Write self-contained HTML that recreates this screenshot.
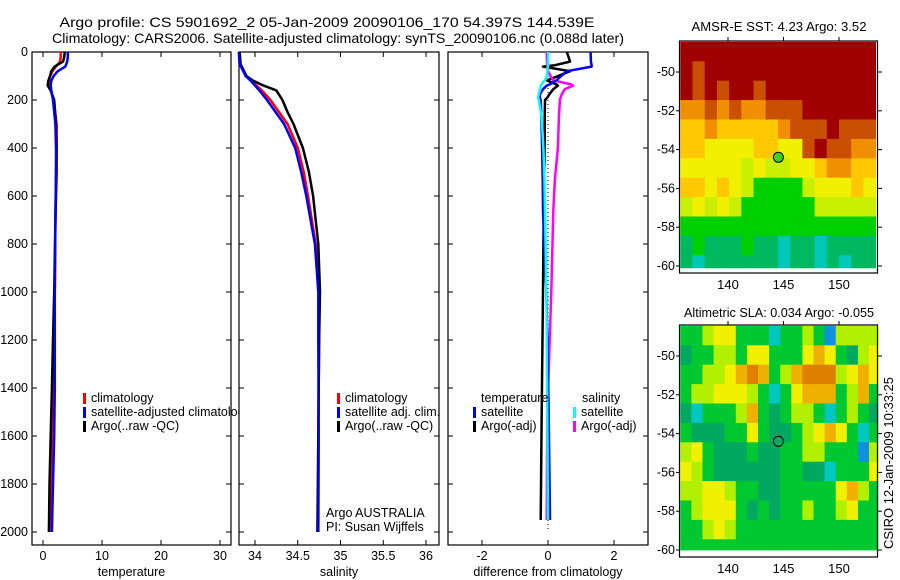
<!DOCTYPE html>
<html><head><meta charset="utf-8">
<style>
html,body{margin:0;padding:0;background:#fff;}
svg{display:block;font-family:"Liberation Sans","DejaVu Sans",sans-serif;}
</style></head>
<body>
<svg id="fig" width="900" height="580" viewBox="0 0 900 580" xmlns="http://www.w3.org/2000/svg">
<text x="327" y="27" font-size="14" text-anchor="middle" textLength="535" lengthAdjust="spacingAndGlyphs">Argo profile: CS 5901692_2 05-Jan-2009 20090106_170 54.397S 144.539E</text>
<text x="338" y="43" font-size="14" text-anchor="middle" textLength="572" lengthAdjust="spacingAndGlyphs">Climatology: CARS2006. Satellite-adjusted climatology: synTS_20090106.nc (0.088d later)</text>
<text x="779" y="31" font-size="13" text-anchor="middle" textLength="175" lengthAdjust="spacingAndGlyphs">AMSR-E SST: 4.23 Argo: 3.52</text>
<text x="779" y="317" font-size="13" text-anchor="middle" textLength="190" lengthAdjust="spacingAndGlyphs">Altimetric SLA: 0.034 Argo: -0.055</text>
<text transform="translate(893,549) rotate(-90)" font-size="13">CSIRO 12-Jan-2009 10:33:25</text>
</svg>
<script>
// ---------- data ----------
const depths = [0,20,40,60,80,100,120,140,160,200,300,400,500,700,1000,1200,1400,1600,1800,2000];
const tempClim = [3.0,3.0,2.9,2.2,1.6,1.2,1.0,1.0,1.3,1.8,2.3,2.3,2.2,2.1,2.0,1.9,1.7,1.5,1.3,1.1];
const tempSat = [4.2,4.2,4.1,3.8,2.5,1.8,1.4,1.3,1.4,1.7,2.1,2.2,2.2,2.1,2.0,2.0,2.0,1.9,1.7,1.5];
const tempArgo = [3.7,3.6,3.4,2.0,1.4,1.2,0.9,0.8,1.3,1.9,2.2,2.3,2.3,2.1,1.9,1.7,1.5,1.3,1.1,1.0];

const salDepths = [0,50,100,120,140,160,200,250,300,400,500,600,800,1000,1200,1600,2000];
const salClim = [33.82,33.83,33.9,33.96,34.02,34.08,34.18,34.28,34.38,34.5,34.57,34.62,34.71,34.75,34.75,34.74,34.74];
const salSat = [33.81,33.82,33.89,33.95,34.0,34.05,34.14,34.24,34.34,34.47,34.54,34.6,34.7,34.74,34.74,34.745,34.74];
const salArgo = [33.82,33.83,33.9,33.98,34.1,34.25,34.32,34.38,34.45,34.56,34.63,34.68,34.74,34.76,34.75,34.74,34.73];

const diffDepths = [0,40,55,61,80,106,118,135,140,155,175,190,200,270,400,530,660,1000,1500,1950];
const diffTempSat = [1.29,1.3,1.32,1.32,0.57,0.35,0.26,0.05,-0.04,-0.15,-0.24,-0.25,-0.22,-0.2,-0.18,-0.16,-0.15,-0.05,0.02,0.06];
const diffTempArgo = [0.57,0.67,0.21,-0.15,0.67,0.2,-0.04,0.25,0.3,0.16,0.05,-0.02,-0.09,-0.1,-0.1,-0.12,-0.13,-0.15,-0.19,-0.22];
const diffSalSat = [0.01,0.0,0.0,-0.01,-0.02,-0.04,-0.1,-0.2,-0.22,-0.24,-0.28,-0.3,-0.28,-0.19,-0.14,-0.11,-0.09,-0.05,-0.02,0.0];
const diffSalArgo = [-0.04,-0.03,-0.02,-0.01,0.0,0.1,0.16,0.7,0.76,0.51,0.42,0.38,0.36,0.33,0.3,0.21,0.16,0.1,-0.02,-0.04];

const depthTicks = [0,200,400,600,800,1000,1200,1400,1600,1800,2000];
const tempTicks = [0,10,20,30];
const salTicks = [34,34.5,35,35.5,36];
const salTickLabels = ["34","34.5","35","35.5","36"];
const diffTicks = [-2,0,2];
const lonTicks = [140,145,150];
const latTicks = [-50,-52,-54,-56,-58,-60];

// SST grid: rows lat -48.45.. step 1 deg; cols lon 135.7.. step 1.1 deg (16 cols)
const sstGrid = [
"8888888888888888",
"8788888888888888",
"8787887888888888",
"6676766777888888",
"5565555567778777",
"5544445544787766",
"4444434334456655",
"5545432222344454",
"3434322222233333",
"2222222222222222",
"1211121101101111",
"1011111101101011"];
const sstColors = ["#00c8b8","#00b860","#00d000","#c8f000","#f0f000","#ffc800","#f09000","#c85000","#a00000"];

// SLA grid: rows lat -48.45.. step 1 deg; cols lon 135.7.. step 1 deg (18 cols)
const slaGrid = [
"334553331334304444",
"233443553335653245",
"334456763467774565",
"344555431356663463",
"213334632344313432",
"322233532234565313",
"453222322334433304",
"543222222332213335",
"445543322333335643",
"345553232334334533",
"334543333333333333",
"333333333333333333"];
const slaColors = ["#1090e0","#00c8c0","#00a860","#00c830","#b0f000","#f0f000","#f0b000","#e08000"];

const argoLon = 144.539, argoLat = -54.397;

// ---------- helpers ----------
const NS = "http://www.w3.org/2000/svg";
const svg = document.getElementById("fig");
function mk(tag, attrs, parent) {
  const e = document.createElementNS(NS, tag);
  for (const k in attrs) e.setAttribute(k, attrs[k]);
  (parent || svg).appendChild(e);
  return e;
}
function lin(d0, d1, r0, r1) { return v => r0 + (v - d0) * (r1 - r0) / (d1 - d0); }

const yDepth = lin(0, 2000, 52, 532);
const PT = 52, PB = 545;

function panel(name, x0, x1, xs, ticks, labels, xtitle) {
  const g = mk("g", {});
  
  
  const r = mk("rect", {x: x0, y: PT, width: x1 - x0, height: PB - PT, fill: "#fff", stroke: "#000", "stroke-width": 1.2}, g);
  
  
  ticks.forEach((t, i) => {
    const x = xs(t);
    mk("line", {x1: x, x2: x, y1: PB, y2: PB - 5, stroke: "#000"}, g);
    mk("line", {x1: x, x2: x, y1: PT, y2: PT + 5, stroke: "#000"}, g);
    const tx = mk("text", {x: x, y: 560, "font-size": 12.5, "text-anchor": "middle"}, g);
    tx.textContent = labels[i];
    
    
  });
  depthTicks.forEach(d => {
    const y = yDepth(d);
    mk("line", {x1: x0, x2: x0 + 5, y1: y, y2: y, stroke: "#000"}, g);
    mk("line", {x1: x1, x2: x1 - 5, y1: y, y2: y, stroke: "#000"}, g);
  });
  const tt = mk("text", {x: (x0 + x1) / 2, y: 576, "font-size": 12.5, "text-anchor": "middle"}, g);
  tt.textContent = xtitle;
  
  
  return g;
}
function series(g, name, xs, vals, ds, color, width, dash) {
  const pts = vals.map((v, i) => xs(v).toFixed(1) + "," + yDepth(ds[i]).toFixed(1)).join(" ");
  const p = mk("polyline", {points: pts, fill: "none", stroke: color, "stroke-width": width || 2.5, "stroke-linejoin": "round"}, g);
  if (dash) p.setAttribute("stroke-dasharray", dash);
  
  
}
function legend(g, x, y, color, label) {
  mk("rect", {x: x, y: y - 9, width: 3, height: 11, fill: color}, g);
  const t = mk("text", {x: x + 8, y: y, "font-size": 12.5}, g);
  t.textContent = label;
  
  
}

// ---------- panel 1: temperature ----------
const xT = lin(0, 30, 43, 220);
const p1 = panel("temperature-panel", 32, 231, xT, tempTicks, tempTicks.map(String), "temperature");
depthTicks.forEach(d => {
  const t = mk("text", {x: 28, y: yDepth(d) + 4, "font-size": 12.5, "text-anchor": "end"});
  t.textContent = d;
  
  
});
series(p1, "temp-climatology-line", xT, tempClim, depths, "#ff0000");
series(p1, "temp-argo-line", xT, tempArgo, depths, "#000000");
series(p1, "temp-satellite-line", xT, tempSat, depths, "#0000ff");
legend(p1, 83, 402, "#ff0000", "climatology");
legend(p1, 83, 416, "#0000ff", "satellite-adjusted climatology");
legend(p1, 83, 430, "#000000", "Argo(..raw -QC)");

// ---------- panel 2: salinity ----------
const xS = lin(34, 36, 255, 426);
const p2 = panel("salinity-panel", 239, 439, xS, salTicks, salTickLabels, "salinity");
series(p2, "sal-climatology-line", xS, salClim, salDepths, "#ff0000");
series(p2, "sal-argo-line", xS, salArgo, salDepths, "#000000");
series(p2, "sal-satellite-line", xS, salSat, salDepths, "#0000ff");
legend(p2, 337, 402, "#ff0000", "climatology");
legend(p2, 337, 416, "#0000ff", "satellite adj. clim.");
legend(p2, 337, 430, "#000000", "Argo(..raw -QC)");
const a1 = mk("text", {x: 326, y: 517, "font-size": 12.5}, p2); a1.textContent = "Argo AUSTRALIA";


const a2 = mk("text", {x: 326, y: 531, "font-size": 12.5}, p2); a2.textContent = "PI: Susan Wijffels";



// ---------- panel 3: differences ----------
const xD = lin(-2, 2, 482, 614);
const p3 = panel("difference-panel", 448, 648, xD, diffTicks, diffTicks.map(String), "difference from climatology");
const zl = mk("line", {x1: xD(0), x2: xD(0), y1: PT, y2: yDepth(2000), stroke: "#000", "stroke-dasharray": "1,3"}, p3);


series(p3, "diff-temp-argo-line", xD, diffTempArgo, diffDepths, "#000000");
series(p3, "diff-sal-argo-line", xD, diffSalArgo, diffDepths, "#ff00ff");
series(p3, "diff-temp-satellite-line", xD, diffTempSat, diffDepths, "#0000ff");
series(p3, "diff-sal-satellite-line", xD, diffSalSat, diffDepths, "#00ffff");
const lt = mk("text", {x: 481, y: 402, "font-size": 12.5}, p3); lt.textContent = "temperature";


const ls = mk("text", {x: 582, y: 402, "font-size": 12.5}, p3); ls.textContent = "salinity";


legend(p3, 473, 416, "#0000ff", "satellite");
legend(p3, 473, 430, "#000000", "Argo(-adj)");
legend(p3, 573, 416, "#00ffff", "satellite");
legend(p3, 573, 430, "#ff00ff", "Argo(-adj)");

// ---------- maps ----------
function map(name, top, bottom, grid, colors, lonStep, dataBottomLat, filled) {
  const X = lin(140, 150, 728, 839);
  const latTop = -48.45;
  const Y = lin(-50, -60, top + 31, top + 225);
  const g = mk("g", {});
  
  
  const lon0 = 135.7;
  grid.forEach((row, r) => {
    const la0 = latTop - r, la1 = Math.max(latTop - r - 1, dataBottomLat);
    for (let c = 0; c < row.length; c++) {
      const lo0 = lon0 + c * lonStep, lo1 = Math.min(lon0 + (c + 1) * lonStep, 153.5);
      if (lo0 >= 153.5) break;
      const x0 = X(lo0), x1 = X(lo1), y0 = Y(la0), y1 = Y(la1);
      const cell = mk("rect", {x: x0.toFixed(1), y: y0.toFixed(1), width: (x1 - x0 + 0.4).toFixed(1), height: (y1 - y0 + 0.4).toFixed(1), fill: colors[+row[c]]}, g);
      
      
    }
  });
  const fr = mk("rect", {x: 679.5, y: top, width: 198, height: bottom - top, fill: "none", stroke: "#000", "stroke-width": 1.2}, g);
  
  
  lonTicks.forEach(l => {
    const x = X(l);
    mk("line", {x1: x, x2: x, y1: top, y2: top - 4, stroke: "#000"}, g);
    const t = mk("text", {x: x, y: bottom + 16, "font-size": 13, "text-anchor": "middle"}, g);
    t.textContent = l;
    
    
  });
  latTicks.forEach(l => {
    const y = Y(l);
    mk("line", {x1: 877.5, x2: 882, y1: y, y2: y, stroke: "#000"}, g);
    mk("line", {x1: 679.5, x2: 676, y1: y, y2: y, stroke: "#000"}, g);
    const t = mk("text", {x: 675, y: y + 4, "font-size": 12.5, "text-anchor": "end"}, g);
    t.textContent = l;
    
    
  });
  const c = mk("circle", {cx: X(argoLon), cy: Y(argoLat), r: 5, fill: filled ? "#40d020" : "none", stroke: "#000", "stroke-width": 1}, g);
  
  
}
map("sst-map", 41, 273, sstGrid, sstColors, 1.1, -60.1, true);
map("sla-map", 325, 557, slaGrid, slaColors, 1.0, -60.0, false);
</script>
</body></html>
